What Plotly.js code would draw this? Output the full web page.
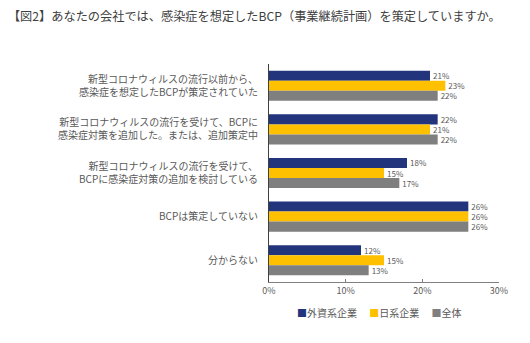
<!DOCTYPE html>
<html>
<head>
<meta charset="utf-8">
<script src="https://cdn.plot.ly/plotly-3.0.1.min.js"></script>
<style>html,body{margin:0;padding:0;background:#fff;}#chart{width:530px;height:343px;}</style>
</head>
<body>
<div id="chart"></div>
<script>
const categories = [
  "新型コロナウィルスの流行以前から、<br>感染症を想定したBCPが策定されていた",
  "新型コロナウィルスの流行を受けて、BCPに<br>感染症対策を追加した。または、追加策定中",
  "新型コロナウィルスの流行を受けて、<br>BCPに感染症対策の追加を検討している",
  "BCPは策定していない",
  "分からない"
];
const seriesNames = ["外資系企業", "日系企業", "全体"];
const foreignValues = [21, 22, 18, 26, 12];
const japaneseValues = [23, 21, 15, 26, 15];
const totalValues = [22, 22, 17, 26, 13];
const xTickValues = [0, 10, 20, 30];
const xTickLabels = ["0%", "10%", "20%", "30%"];

const colors = ["#22347c", "#ffc000", "#7f7f7f"];
const allValues = [foreignValues, japaneseValues, totalValues];
const font = "'Noto Sans CJK JP', 'Noto Sans', sans-serif";

const traces = allValues.map((vals, i) => ({
  type: "bar",
  orientation: "h",
  name: seriesNames[i],
  y: categories,
  x: vals,
  marker: {color: colors[i]},
  text: vals.map(v => v + "%"),
  textposition: "outside",
  constraintext: "none",
  cliponaxis: false,
  textfont: {size: 8, color: "#595959", family: font},
  hoverinfo: "none",
  showlegend: false
}));

const legendText = seriesNames.map((n, i) =>
  `<span style="color:${colors[i]}">■</span>${n}`).join("　 ");

const layout = {
  width: 530, height: 343,
  margin: {l: 269, r: 31, t: 64, b: 61},
  paper_bgcolor: "#fff", plot_bgcolor: "#fff",
  font: {family: font, color: "#595959", size: 10},
  title: {text: "【図2】あなたの会社では、感染症を想定したBCP（事業継続計画）を策定していますか。",
          x: 0.015, xanchor: "left", y: 0.95, yanchor: "middle",
          font: {size: 12.2, color: "#404040", family: font}},
  barmode: "group",
  bargap: 0.31,
  bargroupgap: 0,
  xaxis: {range: [0, 30], tickvals: xTickValues, ticktext: xTickLabels,
          showgrid: false, zeroline: false, showline: true, linecolor: "#808080", linewidth: 1,
          ticks: "inside", ticklen: 3, tickcolor: "#808080",
          tickfont: {size: 9, color: "#595959"}, fixedrange: true},
  yaxis: {autorange: "reversed", showgrid: false, zeroline: false, showline: true,
          linecolor: "#404040", linewidth: 1, ticks: "", ticklabelstandoff: 8,
          tickfont: {size: 10, color: "#595959"}, fixedrange: true},
  showlegend: false,
  annotations: [{
    text: legendText, xref: "paper", yref: "paper", x: 0.48, y: -0.14,
    xanchor: "center", yanchor: "middle", showarrow: false,
    font: {size: 10, color: "#595959", family: font}
  }]
};

Plotly.newPlot("chart", traces, layout, {displayModeBar: false, staticPlot: true});
</script>
</body>
</html>
